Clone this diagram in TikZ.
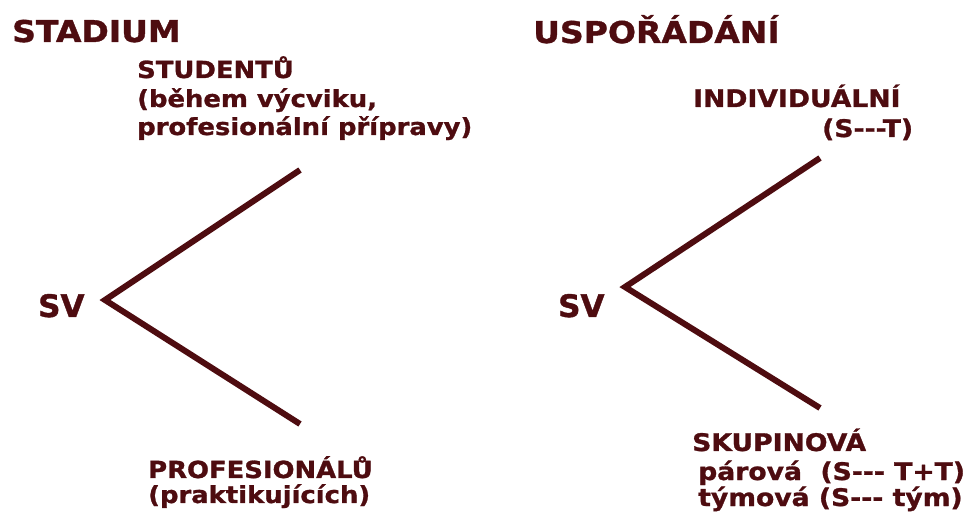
\documentclass[tikz,border=0pt]{standalone}
\usepackage{fontspec}
\setmainfont{DejaVu Sans}[BoldFeatures={FakeStretch=1.1,FakeBold=1.2}]
\newfontfamily\svfont{DejaVu Sans}[BoldFeatures={FakeBold=1.2}]
\definecolor{maroon}{RGB}{78,12,16}
\begin{document}
\begin{tikzpicture}[x=1pt,y=-1pt,
  txt/.style={anchor=base west,inner sep=0pt,text=maroon,font=\bfseries\fontsize{23.5}{28}\selectfont},
  rtxt/.style={txt,font=\bfseries\fontsize{24.2}{28}\selectfont},
  head/.style={txt,font=\bfseries\fontsize{30}{36}\selectfont},
  svlab/.style={txt,font=\svfont\bfseries\fontsize{31}{36}\selectfont},
  branch/.style={draw=maroon,line width=6pt}]
\useasboundingbox (0,0) rectangle (975,518);
% left
\node[head] (stadium) at (12,42) {STADIUM};
\node[txt] (stud1) at (137,78) {STUDENTŮ};
\node[txt] (stud2) at (137,107) {(během výcviku,};
\node[txt] (stud3) at (137,135) {profesionální přípravy)};
\node[svlab] (sv1) at (38,317) {SV};
\node[txt] (prof1) at (148,478) {PROFESIONÁLŮ};
\node[txt] (prof2) at (148,503) {(praktikujících)};
\coordinate (a1) at (105,300);
\coordinate (u1) at (300,170);
\coordinate (d1) at (300,424);
\draw[branch] (u1) -- (a1) -- (d1);
% right
\node[head] (uspo) at (533,43) {USPOŘÁDÁNÍ};
\node[rtxt] (ind1) at (693,107) {INDIVIDUÁLNÍ};
\node[rtxt] (ind2) at (822,137) {(S-{}-{}-T)};
\node[svlab] (sv2) at (558,317) {SV};
\node[rtxt] (sk1) at (692,451) {SKUPINOVÁ};
\node[rtxt] (sk2) at (698,480) {párová\ \ (S-{}-{}- T+T)};
\node[rtxt] (sk3) at (698,506) {týmová (S-{}-{}- tým)};
\coordinate (a2) at (625,287);
\coordinate (u2) at (820,158);
\coordinate (d2) at (820,408);
\draw[branch] (u2) -- (a2) -- (d2);
\end{tikzpicture}
\end{document}
